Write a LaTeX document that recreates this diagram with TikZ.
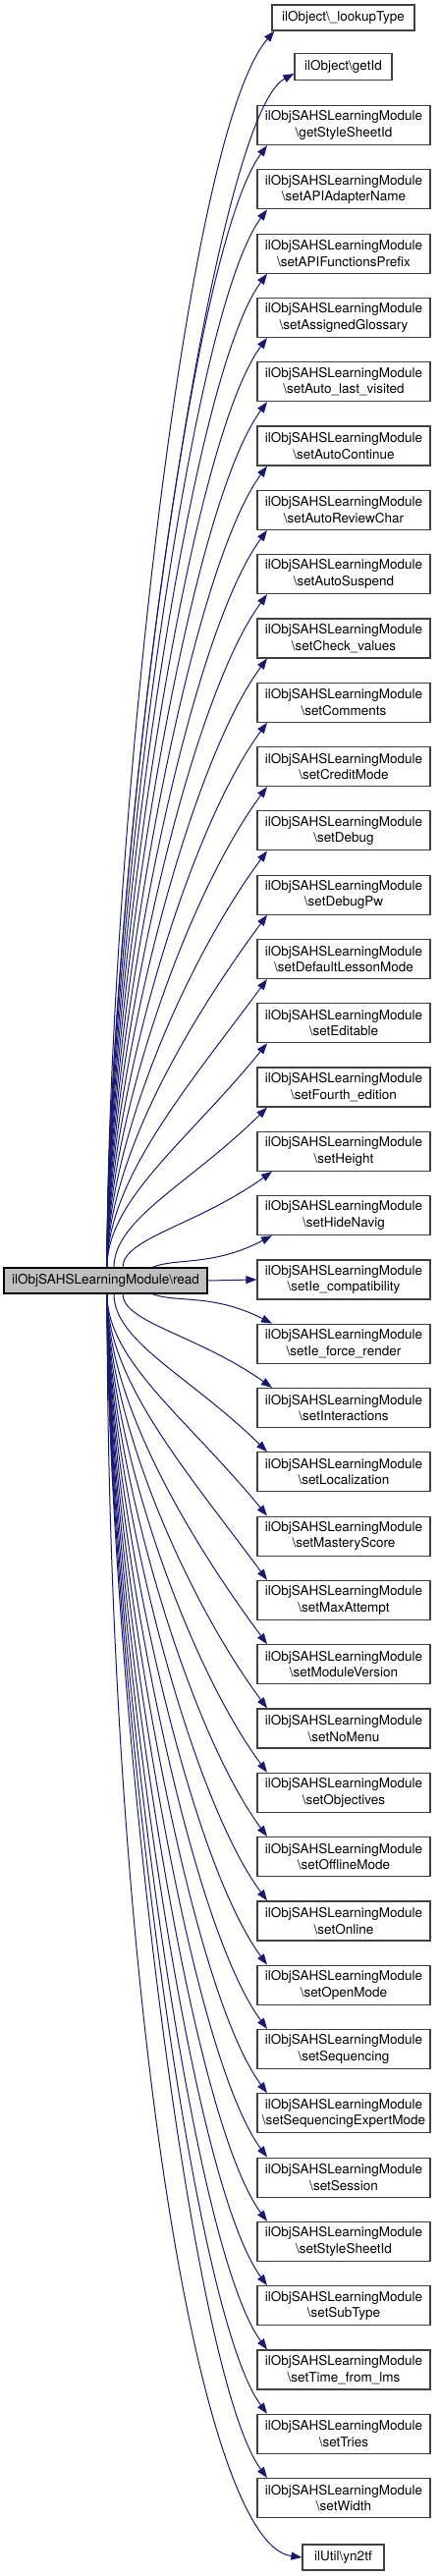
\documentclass[tikz,border=0pt]{standalone}
\usepackage{fontspec}
\setmainfont{TeX Gyre Heros}
\usetikzlibrary{arrows.meta}
\definecolor{edgec}{RGB}{25,25,112}
\definecolor{boxc}{RGB}{64,64,64}
\definecolor{readfill}{RGB}{191,191,191}
\begin{document}
\begin{tikzpicture}[x=1pt,y=-1pt,font=\fontsize{13.5}{16.5}\selectfont,
  fn/.style={draw=boxc,line width=1.2pt,fill=white,minimum width=176pt,minimum height=40pt,inner xsep=4pt,inner ysep=2pt,align=center},
  sn/.style={draw=boxc,line width=1.2pt,fill=white,minimum height=26pt,inner sep=0pt},
  readbox/.style={draw=black,fill=readfill,line width=1.2pt,minimum width=207pt,minimum height=26pt,inner sep=0pt},
  edge/.style={draw=edgec,line width=1pt,-{Triangle[length=11pt,width=8pt]}}]
\useasboundingbox (0,0) rectangle (447,2623);

\node[readbox] (read) at (107.5,1304) {ilObjSAHSLearningModule\textbackslash read};
\node[sn,minimum width=145pt] (lt) at (349.5,18) {ilObject\textbackslash\_lookupType};
\node[sn,minimum width=99pt,minimum height=27pt] (gi) at (349.5,68) {ilObject\textbackslash getId};
\node[sn,minimum width=83pt] (yn) at (349.5,2604) {ilUtil\textbackslash yn2tf};

\foreach \i/\nm in {0/getStyleSheetId,1/setAPIAdapterName,2/setAPIFunctionsPrefix,3/setAssignedGlossary,4/setAuto\_last\_visited,5/setAutoContinue,6/setAutoReviewChar,7/setAutoSuspend,8/setCheck\_values,9/setComments,10/setCreditMode,11/setDebug,12/setDebugPw,13/setDefaultLessonMode,14/setEditable,15/setFourth\_edition,16/setHeight,17/setHideNavig,18/setIe\_compatibility,19/setIe\_force\_render,20/setInteractions,21/setLocalization,22/setMasteryScore,23/setMaxAttempt,24/setModuleVersion,25/setNoMenu,26/setObjectives,27/setOfflineMode,28/setOnline,29/setOpenMode,30/setSequencing,31/setSequencingExpertMode,32/setSession,33/setStyleSheetId,34/setSubType,35/setTime\_from\_lms,36/setTries,37/setWidth}
  \node[fn] (n\i) at (350,{127.5+65.3*\i}) {ilObjSAHSLearningModule\\\textbackslash\nm};

% edges upward
\draw[edge] ([xshift=1.5pt]read.north) .. controls +(0,-391) and +(-95,110) .. ([xshift=3pt]lt.south west);
\draw[edge] ([xshift=1.5pt]read.north) .. controls +(0,-410) and +(-85,45) .. ([yshift=-7pt]gi.west);
\foreach \i in {0,...,17} {
  \pgfmathsetmacro\d{18-\i}
  \pgfmathsetmacro\dy{1291-(147.5+65.3*\i)}
  \pgfmathsetmacro\sx{ifthenelse(\d==1,155,ifthenelse(\d==2,125,ifthenelse(\d==3,116,109)))}
  \pgfmathsetmacro\ex{ifthenelse(\d<=2,277,272)}
  \pgfmathsetmacro\cx{ifthenelse(\d==1,25,0)}
  \pgfmathsetmacro\cy{0.3*\dy}
  \pgfmathsetmacro\ax{0.5*(\ex-\sx)}
  \pgfmathsetmacro\ay{min(110,0.35*\dy+20)}
  \pgfmathsetmacro\ss{\sx-107.5}
  \pgfmathsetmacro\es{\ex-350}
  \draw[edge] ([xshift=\ss]read.north) .. controls +(\cx,-\cy) and +(-\ax,\ay) .. ([xshift=\es]n\i.south);
}
% horizontal
\draw[edge] (read.east) -- (n18.west);
% edges downward
\foreach \i in {19,...,37} {
  \pgfmathsetmacro\d{\i-18}
  \pgfmathsetmacro\dy{(107.5+65.3*\i)-1317}
  \pgfmathsetmacro\sx{ifthenelse(\d==1,155,ifthenelse(\d==2,125,ifthenelse(\d==3,116,109)))}
  \pgfmathsetmacro\ex{ifthenelse(\d<=2,277,272)}
  \pgfmathsetmacro\cx{ifthenelse(\d==1,25,0)}
  \pgfmathsetmacro\cy{0.3*\dy}
  \pgfmathsetmacro\ax{0.5*(\ex-\sx)}
  \pgfmathsetmacro\ay{min(110,0.35*\dy+20)}
  \pgfmathsetmacro\ss{\sx-107.5}
  \pgfmathsetmacro\es{\ex-350}
  \draw[edge] ([xshift=\ss]read.south) .. controls +(\cx,\cy) and +(-\ax,-\ay) .. ([xshift=\es]n\i.north);
}
\draw[edge] ([xshift=1.5pt]read.south) .. controls +(0,683) and +(-108,-14) .. (yn.west);
\end{tikzpicture}
\end{document}
